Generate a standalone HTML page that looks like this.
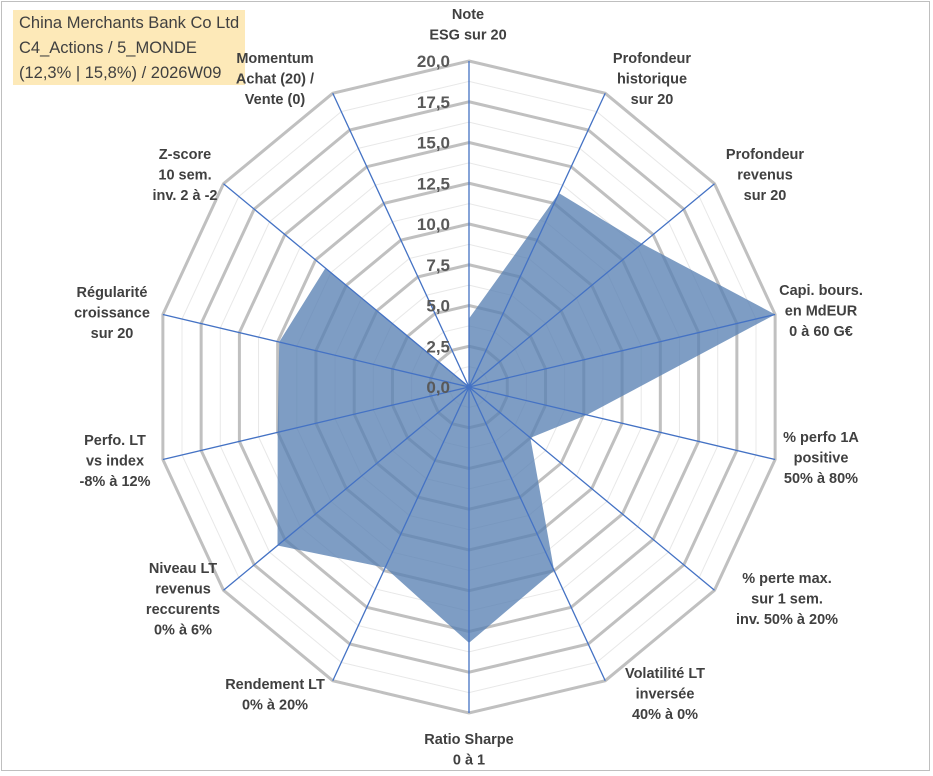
<!DOCTYPE html>
<html><head><meta charset="utf-8">
<style>
html,body{margin:0;padding:0;background:#fff;}
body{width:933px;height:776px;overflow:hidden;position:relative;font-family:"Liberation Sans",Arial,sans-serif;}
#frame{position:absolute;left:1px;top:1px;width:929px;height:770px;border:1px solid #bfbfbf;box-sizing:border-box;}
#title{position:absolute;left:13px;top:10px;width:232px;height:75px;background:#fde9b8;color:#404040;font-size:16.5px;line-height:25px;padding:1px 0 0 6px;box-sizing:border-box;white-space:nowrap;}
svg text{font-family:"Liberation Sans",Arial,sans-serif;font-weight:bold;}
</style></head><body>
<div id="frame"></div>
<div id="title">China Merchants Bank Co Ltd<br>C4_Actions / 5_MONDE<br>(12,3% | 15,8%) / 2026W09</div>
<svg id="chart" width="933" height="776" style="position:absolute;left:0;top:0"></svg>
<script>
const categories = [
 ["Note","ESG sur 20"],
 ["Profondeur","historique","sur 20"],
 ["Profondeur","revenus","sur 20"],
 ["Capi. bours.","en MdEUR","0 à 60 G€"],
 ["% perfo 1A","positive","50% à 80%"],
 ["% perte max.","sur 1 sem.","inv. 50% à 20%"],
 ["Volatilité LT","inversée","40% à 0%"],
 ["Ratio Sharpe","0 à 1"],
 ["Rendement LT","0% à 20%"],
 ["Niveau LT","revenus","reccurents","0% à 6%"],
 ["Perfo. LT","vs index","-8% à 12%"],
 ["Régularité","croissance","sur 20"],
 ["Z-score","10 sem.","inv. 2 à -2"],
 ["Momentum","Achat (20) /","Vente (0)"]
];
const values = [4.2, 13.2, 14.1, 20, 7.7, 5.0, 12.5, 15.7, 12.3, 15.6, 12.5, 12.4, 11.7, 0];
const tickValues = [0, 2.5, 5, 7.5, 10, 12.5, 15, 17.5, 20];
const tickLabels = ["0,0","2,5","5,0","7,5","10,0","12,5","15,0","17,5","20,0"];
const labelCenters = [[468,14],[652,58],[765,154],[821,290],[821,437],[787,578],[665,673],[469,739],[275,684],[183,568],[115,440],[112,292],[185,154],[275,58]];

const NS="http://www.w3.org/2000/svg";
const svg=document.getElementById('chart');
const cx=469, cy=387, Rx=314, Ry=326, vmax=20, N=categories.length;
function pt(i,v){const a=2*Math.PI*i/N;return [cx+Math.sin(a)*Rx*v/vmax, cy-Math.cos(a)*Ry*v/vmax];}
function mk(tag,attrs){const e=document.createElementNS(NS,tag);for(const k in attrs)e.setAttribute(k,attrs[k]);svg.appendChild(e);return e;}
for(let t=0;t<tickValues.length-1;t++){
  const v=(tickValues[t]+tickValues[t+1])/2;
  const p=[];for(let i=0;i<N;i++)p.push(pt(i,v).join(','));
  const e=mk('polygon',{points:p.join(' '),fill:'none',stroke:'#e8e8e8','stroke-width':1});
  
  
}
tickValues.forEach(v=>{ if(v===0)return;
  const p=[];for(let i=0;i<N;i++)p.push(pt(i,v).join(','));
  const e=mk('polygon',{points:p.join(' '),fill:'none',stroke:'#c0c0c0','stroke-width':3});
  
  
});
const dp=values.map((v,i)=>pt(i,v).join(',')).join(' ');
const poly=mk('polygon',{points:dp,fill:'rgba(90,130,180,0.78)',stroke:'none'});


for(let i=0;i<N;i++){
  const [x,y]=pt(i,vmax);
  const e=mk('line',{x1:cx,y1:cy,x2:x,y2:y,stroke:'#4472c4','stroke-width':1.3});
  
  
}
tickValues.forEach((v,k)=>{
  const y=pt(0,v)[1];
  const e=mk('text',{x:cx-19,y:y+6,'text-anchor':'end','font-size':17,fill:'#595959'});
  e.textContent=tickLabels[k];
  
  
});
categories.forEach((lines,i)=>{
  const [x,y0]=labelCenters[i];
  lines.forEach((s,j)=>{
    const e=mk('text',{x:x,y:y0+j*20.5+5,'text-anchor':'middle','font-size':14.5,fill:'#404040'});
    e.textContent=s;
    
    
  });
});
</script>
</body></html>
